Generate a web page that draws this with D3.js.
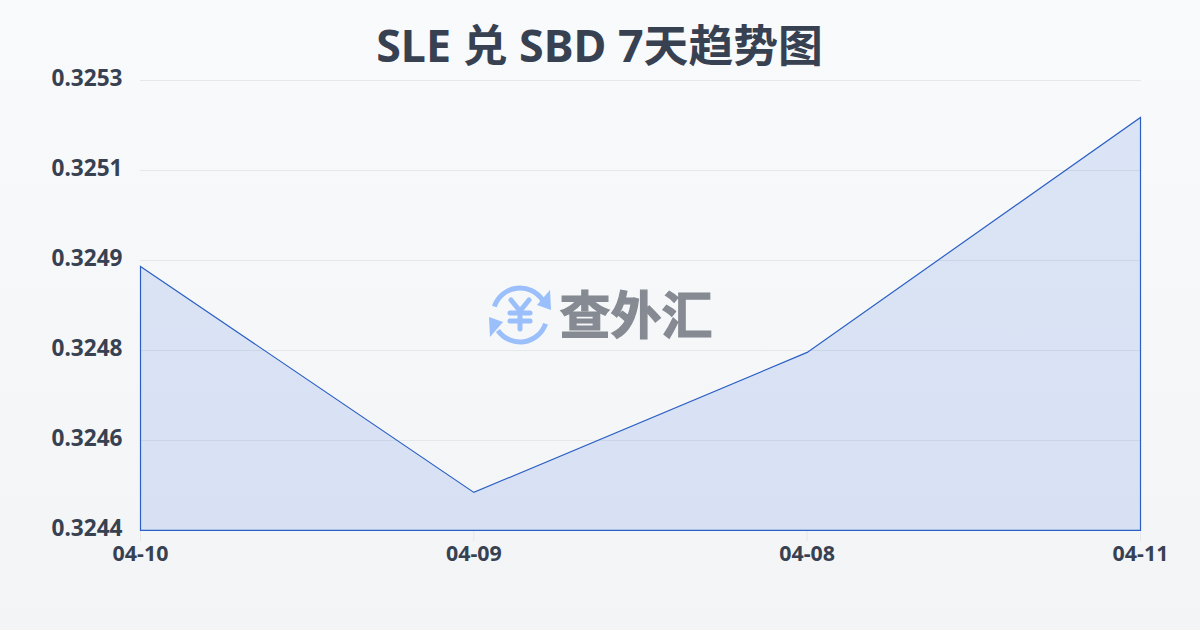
<!DOCTYPE html>
<html><head><meta charset="utf-8">
<script src="https://cdn.jsdelivr.net/npm/d3@7"></script>
<style>html,body{margin:0;padding:0;width:1200px;height:630px;overflow:hidden}text{font-family:"Noto Sans","Noto Sans CJK SC",sans-serif}</style>
</head><body><svg id="c" width="1200" height="630"></svg>
<script>
const titleText = "SLE 兑 SBD 7天趋势图";
const categories = ["04-10","04-09","04-08","04-11"];
const values = [0.324928,0.324476,0.324756,0.325226];
const yTickValues = [0.3253,0.32512,0.32494,0.32476,0.32458,0.3244];
const yTickLabels = ["0.3253","0.3251","0.3249","0.3248","0.3246","0.3244"];
const logoText = "查外汇";

const svg = d3.select("#c");
const defs = svg.append("defs");
const bg = defs.append("linearGradient").attr("id","bg").attr("x1",0).attr("y1",0).attr("x2",0).attr("y2",1);
bg.append("stop").attr("offset","0%").attr("stop-color","#f8fafc");
bg.append("stop").attr("offset","100%").attr("stop-color","#f2f4f6");
svg.append("rect").attr("width",1200).attr("height",630).attr("fill","url(#bg)");

const x = d3.scalePoint().domain(categories).range([140,1140]);
const y = d3.scaleLinear().domain([0.3244,0.3253]).range([530,80]);

svg.append("text").attr("x",599.5).attr("y",62).attr("text-anchor","middle")
  .attr("font-size",44.8).attr("font-weight",700).attr("fill","#374151").text(titleText);

// grid
svg.append("g").selectAll("line").data(yTickValues).join("line")
  .attr("x1",140).attr("x2",1141).attr("y1",d=>y(d)+.5).attr("y2",d=>y(d)+.5)
  .attr("stroke","#e5e7eb").attr("stroke-width",1);

// area
const area = d3.area().x((d,i)=>x(categories[i])).y0(y(0.3244)).y1(d=>y(d));
svg.append("path").datum(values).attr("d",area).attr("transform","translate(.5,.4)")
  .attr("fill","#2563d8").attr("fill-opacity",.135)
  .attr("stroke","#2b5fc4").attr("stroke-width",1.2).attr("stroke-linejoin","miter");

// axes
const ya = d3.axisLeft(y).tickValues(yTickValues).tickFormat((d,i)=>yTickLabels[i]).tickSize(0).tickPadding(17.5);
const yg = svg.append("g").attr("transform","translate(140,0)").call(ya);
yg.select(".domain").remove();
yg.selectAll("text").attr("font-size",22.6).attr("font-weight",700).attr("fill","#374151").attr("font-family",null).attr("dy","0").attr("y",5.5);

const xa = d3.axisBottom(x).tickSize(10).tickPadding(10);
const xg = svg.append("g").attr("transform","translate(0,531)").call(xa);
xg.select(".domain").remove();
xg.selectAll("line").attr("stroke","#e5e7eb").attr("stroke-width",1);
xg.selectAll("text").attr("font-size",21.4).attr("font-weight",700).attr("fill","#374151").attr("font-family",null).attr("dy","0").attr("y",29.5);

// logo
const logo = svg.append("g").attr("transform","translate(520,315)");
const blue="#9abffb";
const ring = logo.append("g").attr("fill","none").attr("stroke",blue).attr("stroke-width",5).attr("stroke-linecap","round");
ring.append("path").attr("d",d3.arc()({innerRadius:27,outerRadius:27,startAngle:-1.25,endAngle:1.0}));
ring.append("path").attr("d",d3.arc()({innerRadius:27,outerRadius:27,startAngle:1.9,endAngle:4.1}));
logo.append("path").attr("fill",blue).attr("d",d3.line()([[17,-10],[30,-25],[31,-5]])+"Z");
logo.append("path").attr("fill",blue).attr("d",d3.line()([[-17,10],[-30,25],[-31,5]])+"Z").attr("transform","translate(0,-3)");
const yen = logo.append("g").attr("fill","none").attr("stroke",blue).attr("stroke-width",5).attr("stroke-linecap","round");
yen.append("path").attr("d",d3.line()([[-9,-15],[0,-4],[9,-15]]));
yen.append("path").attr("d",d3.line()([[0,-4],[0,14]]));
yen.append("path").attr("d",d3.line()([[-10,-2],[10,-2]]));
yen.append("path").attr("d",d3.line()([[-10,6],[10,6]]));
svg.append("text").attr("x",636).attr("y",334).attr("text-anchor","middle").attr("font-size",51)
  .attr("font-weight",700).attr("fill","#868a92").attr("stroke","#868a92").attr("stroke-width",1.2)
  .style("font-family",'"Noto Sans CJK SC"').text(logoText);
</script></body></html>
